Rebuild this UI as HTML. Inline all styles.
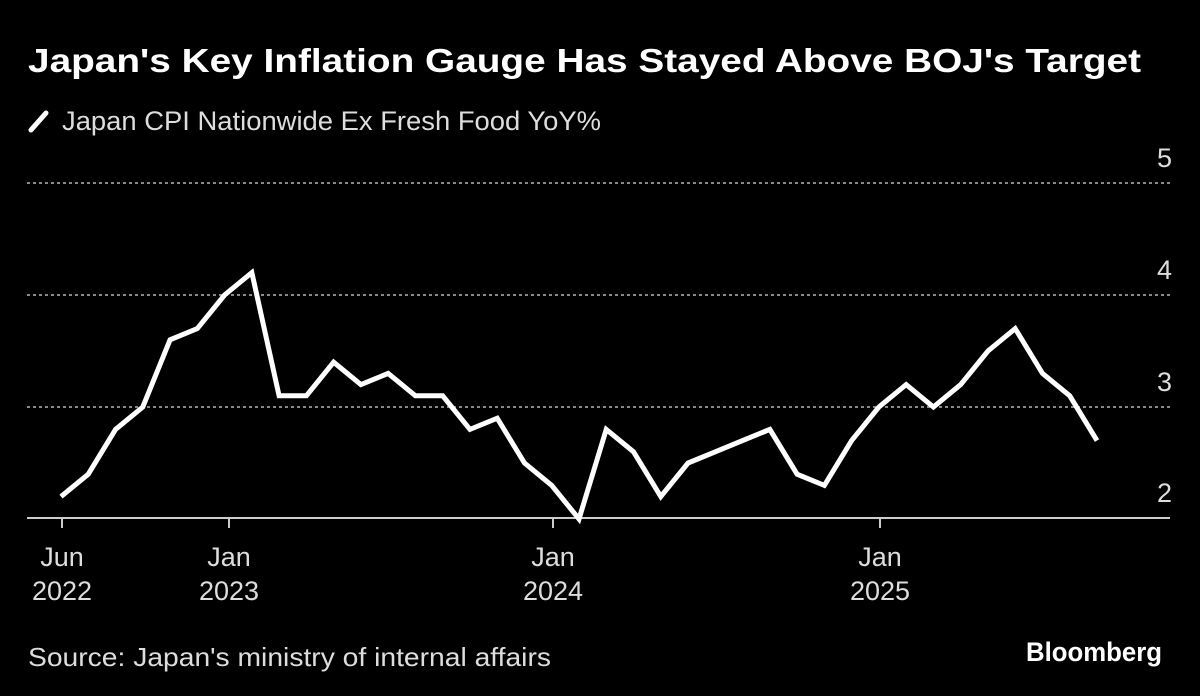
<!DOCTYPE html>
<html>
<head>
<meta charset="utf-8">
<style>
html,body{margin:0;padding:0;background:#000;}
svg{display:block;}
</style>
</head>
<body>
<svg width="1200" height="696" viewBox="0 0 1200 696" xmlns="http://www.w3.org/2000/svg">
<rect x="0" y="0" width="1200" height="696" fill="#000"/>
<text x="28" y="72" fill="#fff" font-family="Liberation Sans, sans-serif" font-weight="bold" font-size="33" textLength="1113" lengthAdjust="spacingAndGlyphs">Japan's Key Inflation Gauge Has Stayed Above BOJ's Target</text>
<line x1="31" y1="130" x2="46" y2="113" stroke="#fff" stroke-width="5" stroke-linecap="round"/>
<text x="62" y="130" fill="#ddd" font-family="Liberation Sans, sans-serif" font-size="27" textLength="539" lengthAdjust="spacingAndGlyphs">Japan CPI Nationwide Ex Fresh Food YoY%</text>
<g stroke="#8a8a8a" stroke-width="2" stroke-dasharray="3,3">
<line x1="27" y1="183" x2="1170" y2="183"/>
<line x1="27" y1="295" x2="1170" y2="295"/>
<line x1="27" y1="407" x2="1170" y2="407"/>
</g>
<g fill="#ddd" font-family="Liberation Sans, sans-serif" font-size="27" text-anchor="end">
<text x="1172" y="167">5</text>
<text x="1172" y="279">4</text>
<text x="1172" y="391">3</text>
<text x="1172" y="502">2</text>
</g>
<line x1="27" y1="518" x2="1170" y2="518" stroke="#ccc" stroke-width="2"/>
<g stroke="#ccc" stroke-width="2">
<line x1="62" y1="518" x2="62" y2="528"/>
<line x1="229" y1="518" x2="229" y2="528"/>
<line x1="553" y1="518" x2="553" y2="528"/>
<line x1="880" y1="518" x2="880" y2="528"/>
</g>
<g fill="#ddd" font-family="Liberation Sans, sans-serif" font-size="27" text-anchor="middle">
<text x="62" y="566">Jun</text><text x="62" y="600">2022</text>
<text x="229" y="566">Jan</text><text x="229" y="600">2023</text>
<text x="553" y="566">Jan</text><text x="553" y="600">2024</text>
<text x="880" y="566">Jan</text><text x="880" y="600">2025</text>
</g>
<polyline fill="none" stroke="#fff" stroke-width="5" stroke-linejoin="miter" stroke-miterlimit="4" points="61,496.6 88.26,474.2 115.53,429.4 142.79,407 170.05,339.8 197.32,328.6 224.58,295 251.84,272.6 279.11,395.8 306.37,395.8 333.63,362.2 360.89,384.6 388.16,373.4 415.42,395.8 442.68,395.8 469.95,429.4 497.21,418.2 524.47,463 551.74,485.4 579,519 606.26,429.4 633.53,451.8 660.79,496.6 688.05,463 715.32,451.8 742.58,440.6 769.84,429.4 797.11,474.2 824.37,485.4 851.63,440.6 878.89,407 906.16,384.6 933.42,407 960.68,384.6 987.95,351 1015.21,328.6 1042.47,373.4 1069.74,395.8 1097,440.6"/>
<text x="28" y="666" fill="#ddd" font-family="Liberation Sans, sans-serif" font-size="26" textLength="523" lengthAdjust="spacingAndGlyphs">Source: Japan's ministry of internal affairs</text>
<text x="1026" y="661" fill="#fff" font-family="Liberation Sans, sans-serif" font-weight="bold" font-size="27" textLength="136" lengthAdjust="spacingAndGlyphs">Bloomberg</text>
</svg>
</body>
</html>
